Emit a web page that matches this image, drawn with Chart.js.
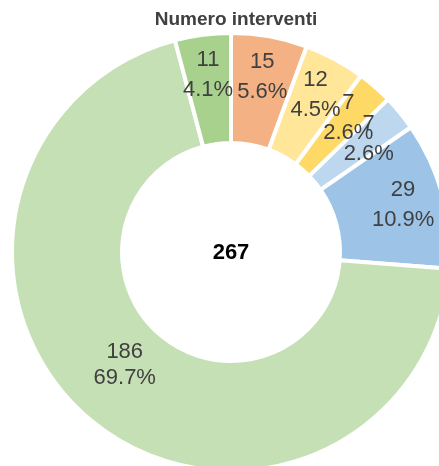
<!DOCTYPE html>
<html>
<head>
<meta charset="utf-8">
<script src="https://cdn.jsdelivr.net/npm/chart.js@4/dist/chart.umd.min.js"></script>
<style>
  html, body { margin: 0; padding: 0; background: #ffffff; overflow: hidden; width: 439px; height: 466px; }
  #wrap { position: absolute; left: 0; top: 0; width: 470px; height: 490px; }
</style>
</head>
<body>
<div id="wrap"><canvas id="c" width="470" height="490"></canvas></div>
<script>
const chartTitle = "Numero interventi";
const categories = ["A", "B", "C", "D", "E", "F", "G"];
const values = [15, 12, 7, 7, 29, 186, 11];
const colors = ["#F4B183", "#FFE699", "#FFD966", "#BDD7EE", "#9DC3E6", "#C5E0B4", "#A9D18E"];

const total = values.reduce((a, b) => a + b, 0);

const labelPlugin = {
  id: "donutLabels",
  afterDatasetsDraw(chart) {
    const ctx = chart.ctx;
    const meta = chart.getDatasetMeta(0);
    ctx.save();
    ctx.font = '22px "Liberation Sans", Arial, sans-serif';
    ctx.fillStyle = "#404040";
    ctx.textAlign = "center";
    ctx.textBaseline = "middle";
    meta.data.forEach((arc, i) => {
      const p = arc.getProps(["x", "y", "startAngle", "endAngle", "innerRadius", "outerRadius"], true);
      const share = values[i] / total;
      const mid = (p.startAngle + p.endAngle) / 2 + (share > 0.5 ? 0.06 : 0);
      const r = p.innerRadius + (p.outerRadius - p.innerRadius) * (share > 0.5 ? 0.42 : 0.63);
      const cx = p.x + Math.cos(mid) * r;
      const cy = p.y + Math.sin(mid) * r;
      const pct = (share * 100).toFixed(1) + "%";
      const half = share > 0.5 ? 13 : 15;
      ctx.fillText(String(values[i]), cx, cy - half);
      ctx.fillText(pct, cx, cy + half);
    });
    // centre total
    const a0 = meta.data[0];
    ctx.font = 'bold 22px "Liberation Sans", Arial, sans-serif';
    ctx.fillStyle = "#000000";
    ctx.fillText(String(total), a0.x, a0.y + 1);
    // title
    ctx.font = 'bold 19px "Liberation Sans", Arial, sans-serif';
    ctx.fillStyle = "#404040";
    ctx.fillText(chartTitle, 236, 20);
    ctx.restore();
  }
};

new Chart(document.getElementById("c"), {
  type: "doughnut",
  data: {
    labels: categories,
    datasets: [{
      data: values,
      backgroundColor: colors,
      borderColor: "#ffffff",
      borderWidth: 4,
      borderAlign: "center",
      hoverOffset: 0
    }]
  },
  options: {
    responsive: false,
    animation: false,
    cutout: 109,
    layout: { padding: { left: 10, top: 31, right: 470 - 10 - 442, bottom: 490 - 31 - 442 } },
    plugins: {
      legend: { display: false },
      tooltip: { enabled: false },
      title: { display: false }
    }
  },
  plugins: [labelPlugin]
});
</script>
</body>
</html>
